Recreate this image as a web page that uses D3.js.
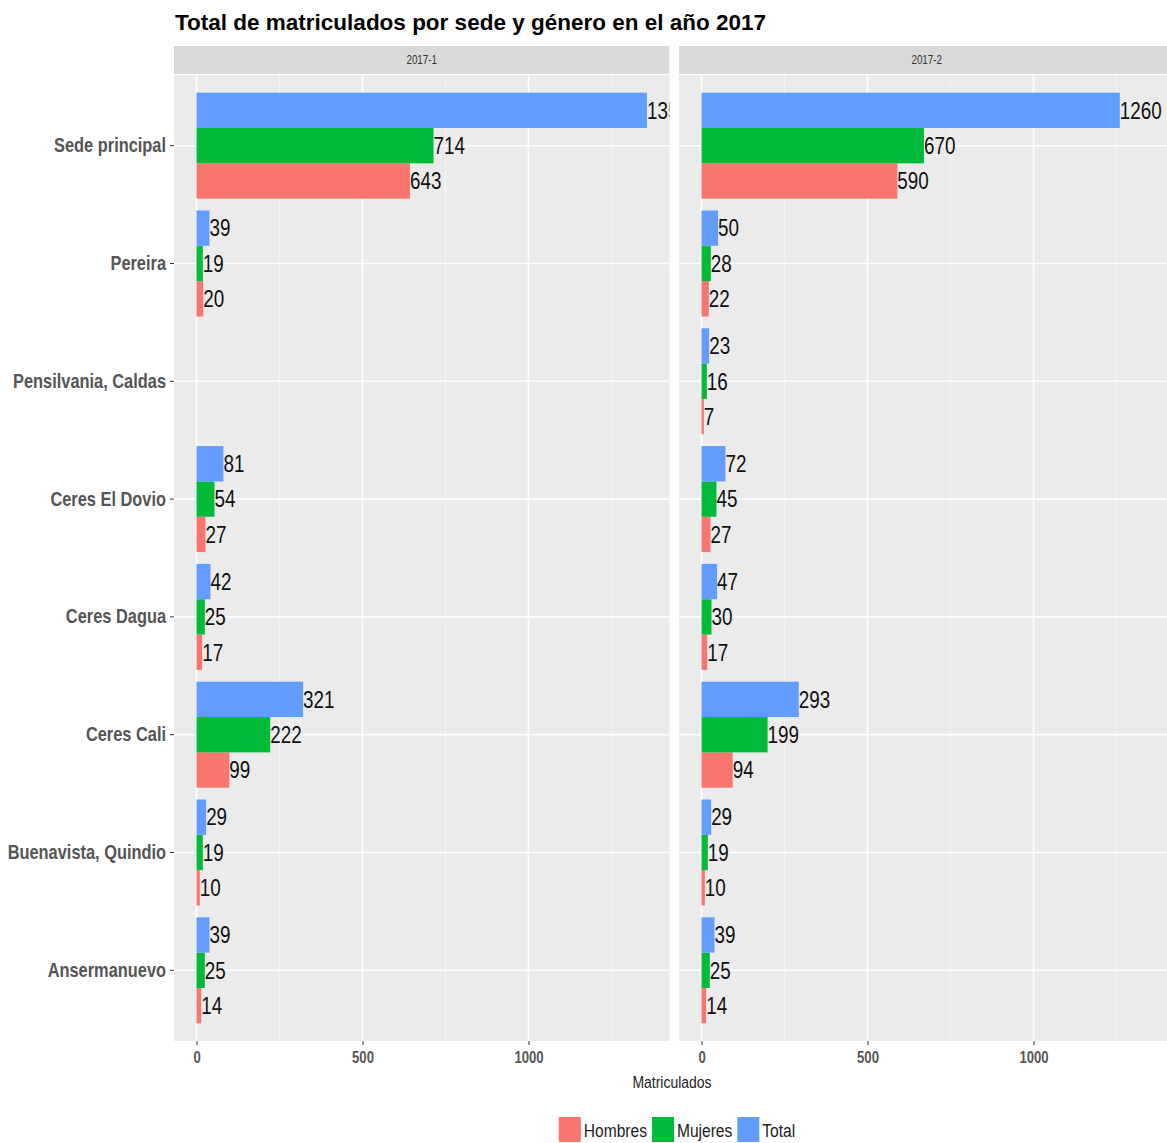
<!DOCTYPE html>
<html>
<head>
<meta charset="utf-8">
<script src="https://cdn.jsdelivr.net/npm/d3@7"></script>
<style>
  html, body { margin: 0; padding: 0; background: #fff; }
  svg { display: block; }
</style>
</head>
<body>
<svg id="chart" width="1167" height="1143"></svg>
<script>
// ---------------- DATA ----------------
const categories = ["Sede principal", "Pereira", "Pensilvania, Caldas", "Ceres El Dovio",
                    "Ceres Dagua", "Ceres Cali", "Buenavista, Quindio", "Ansermanuevo"];
const periods = ["2017-1", "2017-2"];
const series = ["Hombres", "Mujeres", "Total"];
const hombres_2017_1 = [643, 20, null, 27, 17, 99, 10, 14];
const mujeres_2017_1 = [714, 19, null, 54, 25, 222, 19, 25];
const total_2017_1   = [1357, 39, null, 81, 42, 321, 29, 39];
const hombres_2017_2 = [590, 22, 7, 27, 17, 94, 10, 14];
const mujeres_2017_2 = [670, 28, 16, 45, 30, 199, 19, 25];
const total_2017_2   = [1260, 50, 23, 72, 47, 293, 29, 39];
const xTickValues = [0, 500, 1000];
const xMinorValues = [250, 750, 1250];
const titleText = "Total de matriculados por sede y género en el año 2017";
const xAxisTitle = "Matriculados";

// ---------------- BUILD ROWS ----------------
const valuesByPeriod = {
  "2017-1": { Hombres: hombres_2017_1, Mujeres: mujeres_2017_1, Total: total_2017_1 },
  "2017-2": { Hombres: hombres_2017_2, Mujeres: mujeres_2017_2, Total: total_2017_2 }
};
const rows = [];
periods.forEach(p => {
  series.forEach(s => {
    valuesByPeriod[p][s].forEach((v, i) => {
      if (v != null) rows.push({ period: p, series: s, sede: categories[i], value: v });
    });
  });
});

// ---------------- LAYOUT ----------------
const FONT = "'Liberation Sans', Arial, Helvetica, sans-serif";
const SX = 0.82; // horizontal condensing of the narrow texts
const svg = d3.select("#chart");
const panelTop = 75, panelBottom = 1041;
const stripTop = 46, stripBottom = 74;
const panelW = 495.5;
const panelX = { "2017-1": 174, "2017-2": 679 };

const maxV = d3.max(rows, d => d.value);
const x = d3.scaleLinear().domain([-0.05 * maxV, maxV * 1.05]).range([0, panelW]);
const y = d3.scaleBand().domain(categories).range([panelTop, panelBottom])
  .paddingInner(0.1).paddingOuter(0.15);
const ySub = d3.scaleBand().domain(["Total", "Mujeres", "Hombres"]).range([0, y.bandwidth()]);
const color = d3.scaleOrdinal().domain(series).range(["#F8766D", "#00BA38", "#619CFF"]);

// Title
svg.append("text")
  .attr("x", 175).attr("y", 30)
  .attr("font-family", FONT).attr("font-weight", "bold")
  .attr("font-size", 22.5).attr("fill", "#000")
  .text(titleText);

const defs = svg.append("defs");

periods.forEach(p => {
  const px = panelX[p];
  const g = svg.append("g").attr("transform", `translate(${px},0)`);
  const clipId = "clip-" + p;
  defs.append("clipPath").attr("id", clipId)
    .append("rect").attr("x", 0).attr("y", panelTop).attr("width", panelW).attr("height", panelBottom - panelTop);

  // strip
  g.append("rect").attr("x", 0).attr("y", stripTop).attr("width", panelW)
    .attr("height", stripBottom - stripTop).attr("fill", "#D9D9D9");
  g.append("text").attr("x", (panelW / 2) / SX).attr("y", (stripTop + stripBottom) / 2)
    .attr("transform", `scale(${SX},1)`)
    .attr("dy", "0.35em").attr("text-anchor", "middle")
    .attr("font-family", FONT).attr("font-size", 12).attr("fill", "#333")
    .text(p);

  // panel background
  g.append("rect").attr("x", 0).attr("y", panelTop).attr("width", panelW)
    .attr("height", panelBottom - panelTop).attr("fill", "#EBEBEB");

  const inner = g.append("g").attr("clip-path", `url(#${clipId})`);
  inner.selectAll("line.minor").data(xMinorValues).join("line")
    .attr("x1", d => x(d)).attr("x2", d => x(d))
    .attr("y1", panelTop).attr("y2", panelBottom)
    .attr("stroke", "#F5F5F5").attr("stroke-width", 0.8);
  inner.selectAll("line.majx").data(xTickValues).join("line")
    .attr("x1", d => x(d)).attr("x2", d => x(d))
    .attr("y1", panelTop).attr("y2", panelBottom)
    .attr("stroke", "#FFFFFF").attr("stroke-width", 1.6);
  inner.selectAll("line.majy").data(categories).join("line")
    .attr("x1", 0).attr("x2", panelW)
    .attr("y1", d => y(d) + y.bandwidth() / 2).attr("y2", d => y(d) + y.bandwidth() / 2)
    .attr("stroke", "#FFFFFF").attr("stroke-width", 1.6);

  const pr = rows.filter(r => r.period === p);
  inner.selectAll("rect.bar").data(pr).join("rect")
    .attr("x", x(0))
    .attr("y", d => y(d.sede) + ySub(d.series))
    .attr("width", d => x(d.value) - x(0))
    .attr("height", ySub.bandwidth())
    .attr("fill", d => color(d.series));
  inner.selectAll("text.lab").data(pr).join("text")
    .attr("transform", `scale(${SX},1)`)
    .attr("x", d => x(d.value) / SX)
    .attr("y", d => y(d.sede) + ySub(d.series) + ySub.bandwidth() / 2)
    .attr("dy", "0.36em")
    .attr("font-family", FONT).attr("font-size", 23).attr("fill", "#111")
    .text(d => d.value);

  const xAxis = g.append("g").attr("transform", `translate(0,${panelBottom})`)
    .call(d3.axisBottom(x).tickValues(xTickValues).tickSize(4).tickPadding(7).tickFormat(d3.format("d")));
  xAxis.select(".domain").remove();
  xAxis.selectAll(".tick line").attr("stroke", "#333").attr("stroke-width", 1);
  xAxis.selectAll(".tick text").attr("font-family", FONT).attr("font-size", 16)
    .attr("transform", `scale(${SX},1)`)
    .attr("font-weight", "bold").attr("fill", "#555");
});

// y axis (left panel only)
const yAxis = svg.append("g").attr("transform", `translate(${panelX["2017-1"]},0)`)
  .call(d3.axisLeft(y).tickSize(4).tickPadding(4));
yAxis.select(".domain").remove();
yAxis.selectAll(".tick line").attr("stroke", "#333").attr("stroke-width", 1);
yAxis.selectAll(".tick text").attr("font-family", FONT).attr("font-size", 20)
  .attr("x", -8 / SX).attr("transform", `scale(${SX},1)`)
  .attr("font-weight", "bold").attr("fill", "#555");

// x axis title
const panelsCenter = (panelX["2017-1"] + panelX["2017-2"] + panelW) / 2;
svg.append("text").attr("x", 672 / SX).attr("y", 1088)
  .attr("transform", `scale(${SX},1)`)
  .attr("text-anchor", "middle").attr("font-family", FONT).attr("font-size", 17)
  .attr("fill", "#222").text(xAxisTitle);

// legend
const legend = svg.append("g");
const keyW = 22, keyH = 25, keyGap = 3, itemGap = 5;
let cx = 0;
series.forEach(s => {
  const it = legend.append("g");
  it.append("rect").attr("x", 0).attr("y", 0).attr("width", keyW).attr("height", keyH).attr("fill", color(s));
  const t = it.append("text").attr("transform", `scale(${SX},1)`)
    .attr("x", (keyW + keyGap) / SX).attr("y", keyH / 2).attr("dy", "0.38em")
    .attr("font-family", FONT).attr("font-size", 19).attr("fill", "#222").text(s);
  const w = keyW + keyGap + t.node().getComputedTextLength() * SX;
  it.attr("transform", `translate(${cx},0)`);
  cx += w + itemGap;
});
const legendW = cx - itemGap;
legend.attr("transform", `translate(${677 - legendW / 2},1117)`);
</script>
</body>
</html>
